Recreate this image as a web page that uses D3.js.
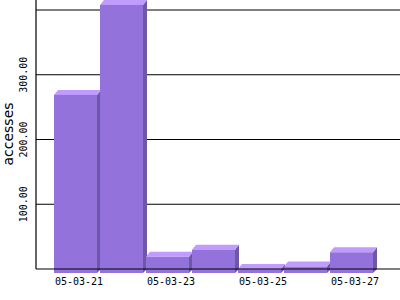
<!DOCTYPE html>
<html>
<meta charset="utf-8">
<head>
<style>
body { margin: 0; background: #fff; }
</style>
<script src="https://d3js.org/d3.v7.min.js"></script>
</head>
<body>
  <svg width="400" height="300"></svg>
  <script>
  // data
  var days = ["05-03-21", "05-03-22", "05-03-23", "05-03-24", "05-03-25", "05-03-26", "05-03-27"];
  var accesses = [275, 414, 25, 36, 6, 10, 32];
  var gridValues = [100, 200, 300, 400];
  var tickValues = [100, 200, 300];
  var labelDays = ["05-03-21", "05-03-23", "05-03-25", "05-03-27"];

  var svg = d3.select("svg");
  var depth = 4;          // 3d offset of the bars
  var axisX = 36;
  var tickFont = "10px 'DejaVu Sans Mono', monospace";

  var x = d3.scaleBand()
      .domain(days)
      .range([54, 376])
      .paddingInner(0);

  // front faces sit "depth" px below the back plane
  var y = d3.scaleLinear()
      .domain([0, 400])
      .range([273, 14]);

  var barW = x.bandwidth() - 3;

  // grid lines on the back plane
  svg.append("g").selectAll("line")
      .data(gridValues)
    .enter().append("line")
      .attr("x1", axisX).attr("x2", 400)
      .attr("y1", function(d) { return y(d) - depth; })
      .attr("y2", function(d) { return y(d) - depth; })
      .attr("stroke", "#000")
      .attr("stroke-width", 1.2);

  var bar = svg.append("g").selectAll("g")
      .data(days)
    .enter().append("g");

  // side
  bar.append("path")
      .attr("fill", "#6f57a8")
      .attr("d", function(d, i) {
        var x0 = x(d) + barW, t = y(accesses[i]), b = y(0);
        return "M" + x0 + "," + t + "L" + (x0 + depth) + "," + (t - depth - 1) +
               "L" + (x0 + depth) + "," + (b - depth) + "L" + x0 + "," + b + "Z";
      });

  // top
  bar.append("path")
      .attr("fill", "#c29bff")
      .attr("d", function(d, i) {
        var x0 = x(d), t = y(accesses[i]);
        return "M" + x0 + "," + t + "L" + (x0 + depth) + "," + (t - depth - 1) +
               "L" + (x0 + barW + depth) + "," + (t - depth - 1) + "L" + (x0 + barW) + "," + t + "Z";
      });

  // front
  bar.append("rect")
      .attr("fill", "#9372dc")
      .attr("x", function(d) { return x(d); })
      .attr("y", function(d, i) { return y(accesses[i]); })
      .attr("width", barW)
      .attr("height", function(d, i) { return y(0) - y(accesses[i]); });

  // axis lines
  svg.append("line")
      .attr("x1", axisX).attr("x2", axisX)
      .attr("y1", 0).attr("y2", y(0) - depth)
      .attr("stroke", "#000").attr("stroke-width", 1.2);
  svg.append("line")
      .attr("x1", axisX).attr("x2", 400)
      .attr("y1", y(0) - depth).attr("y2", y(0) - depth)
      .attr("stroke", "#000").attr("stroke-width", 1.2);

  // y tick labels, rotated
  svg.append("g").selectAll("text")
      .data(tickValues)
    .enter().append("text")
      .attr("transform", function(d) { return "translate(27," + (y(d) - depth) + ") rotate(-90)"; })
      .attr("text-anchor", "middle")
      .style("font", tickFont)
      .text(function(d) { return d3.format(".2f")(d); });

  // x tick labels
  svg.append("g").selectAll("text")
      .data(labelDays)
    .enter().append("text")
      .attr("x", function(d) { return x(d) + x.bandwidth() / 2 + 2; })
      .attr("y", 285)
      .attr("text-anchor", "middle")
      .style("font", tickFont)
      .text(function(d) { return d; });

  svg.append("text")
      .attr("transform", "translate(13,134) rotate(-90)")
      .attr("text-anchor", "middle")
      .style("font", "14px 'DejaVu Sans', sans-serif")
      .text("accesses");
  </script>
</body>
</html>
